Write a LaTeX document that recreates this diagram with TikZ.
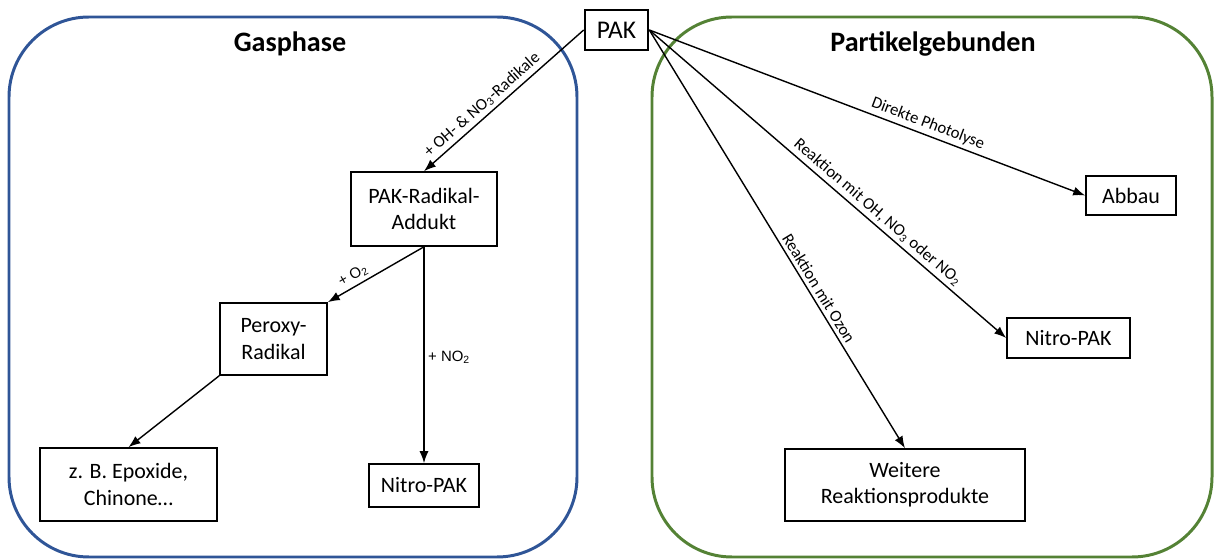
\documentclass[tikz,border=0pt]{standalone}
\usepackage{fontspec}
\setmainfont{Carlito}
\newfontfamily\smallsans{Liberation Sans}
\usetikzlibrary{arrows.meta,positioning}
\definecolor{GasBlue}{HTML}{2F5597}
\definecolor{PartGreen}{HTML}{548235}
\tikzset{
    block/.style = {draw, rectangle, line width=0.9pt,
        inner sep=2pt, align=center, font=\fontsize{12.5}{15}\selectfont},
    phase/.style = {draw, rounded corners=1.6cm, line width=1.7pt},
    title/.style = {font=\bfseries\fontsize{16}{19}\selectfont},
    arrow/.style = {draw, -{Latex[length=2.4mm,width=1.8mm]}, line width=0.8pt},
    lbl/.style = {font=\fontsize{9.5}{11}\selectfont, sloped, above, inner sep=2pt},
    tinylbl/.style = {font=\smallsans\fontsize{8.5}{10}\selectfont, inner sep=2pt}
}

\begin{document}
\begin{tikzpicture}[x=0.02cm, y=-0.02cm]
        \useasboundingbox (0,0) rectangle (1215,560);
        \draw [phase, GasBlue] (9,17) rectangle (577,557);
        \draw [phase, PartGreen] (652,17) rectangle (1212,557);
        \node [title] (gas) at (290,44) {Gasphase};
        \node [title] (part) at (933,44) {Partikelgebunden};
        \node [block, line width=1.5pt, minimum width=1.26cm, minimum height=0.8cm,
            font=\fontsize{14.5}{17}\selectfont, fill=white] (pak) at (616.5,30) {PAK};
        % Gasphase
        \node [block, minimum width=2.92cm, minimum height=1.48cm] (addukt) at (424,209) {PAK-Radikal-\\Addukt};
        \node [block, minimum width=2.14cm, minimum height=1.44cm] (peroxy) at (273.5,339) {Peroxy-\\Radikal};
        \node [block, minimum width=3.54cm, minimum height=1.46cm] (epox) at (128.5,484.5) {z. B. Epoxide,\\Chinone…};
        \node [block, minimum width=2.2cm, minimum height=0.86cm] (nitroL) at (424,485.5) {Nitro-PAK};
        \draw [arrow] (pak.west) -- node[lbl, pos=0.59] {+ OH- \& NO\textsubscript{3}-Radikale} (addukt.north);
        \draw [arrow] (addukt.south) -- node[tinylbl, sloped, above, pos=0.68] {+ O\textsubscript{2}} (peroxy.north east);
        \draw [arrow] (addukt.south) -- node[tinylbl, right, pos=0.51] {+ NO\textsubscript{2}} (nitroL.north);
        \draw [arrow] (peroxy.south west) -- (epox.north);
        % Partikelgebunden
        \node [block, minimum width=1.8cm, minimum height=0.78cm] (abbau) at (1131,195.5) {Abbau};
        \node [block, minimum width=2.46cm, minimum height=0.8cm] (nitroR) at (1068.5,338) {Nitro-PAK};
        \node [block, minimum width=4.8cm, minimum height=1.44cm] (weitere) at (905,485) {Weitere\\Reaktionsprodukte};
        \draw [arrow] (pak.east) -- node[lbl, pos=0.63] {Direkte Photolyse} (abbau.west);
        \draw [arrow] (pak.east) -- node[lbl, pos=0.62] {Reaktion mit OH, NO\textsubscript{3} oder NO\textsubscript{2}} (nitroR.west);
        \draw [arrow] (pak.east) -- node[lbl, pos=0.63] {Reaktion mit Ozon} (weitere.north);
\end{tikzpicture}
\end{document}
